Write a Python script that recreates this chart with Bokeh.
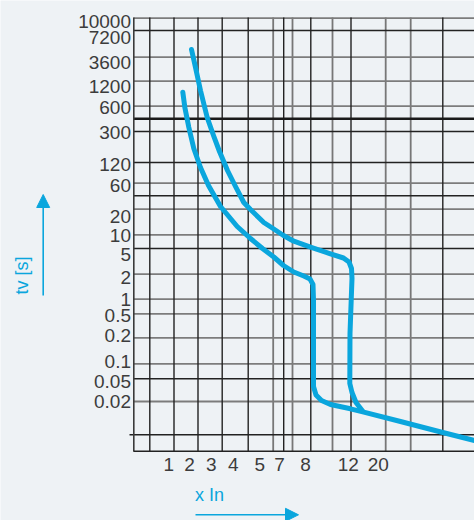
from bokeh.plotting import figure
from bokeh.models import Label, Arrow, NormalHead, Range1d
from bokeh.embed import file_html
from bokeh.resources import INLINE

# Chart units: position inside the drawn grid (the original chart uses a
# non-uniform, hand-drawn scale), x from the left border, y from the bottom border.
x_tick_pos = [35.3, 56.0, 77.7, 99.7, 126.3, 146.0, 172.0, 214.7, 244.7]
x_tick_labels = ["1", "2", "3", "4", "5", "7", "8", "12", "20"]

y_tick_pos = [430.0, 413.7, 388.7, 365.3, 343.7, 319.3, 287.0, 266.3, 235.3,
              216.0, 197.0, 174.3, 152.3, 136.0, 116.0, 90.3, 70.0, 50.0]
y_tick_labels = ["10000", "7200", "3600", "1200", "600", "300", "120", "60", "20",
                 "10", "5", "2", "1", "0.5", "0.2", "0.1", "0.05", "0.02"]

vgrid_dark = [16.3, 40.5, 64.5, 88.7, 114.7, 150.2, 177.3, 217.5, 309.3]
vgrid_light = [139.7, 159.0, 199.0, 252.2, 277.2]
hgrid_dark = [421.0, 320.0, 289.0, 255.7, 203.0, 72.7]
hgrid_light = [433.3, 394.3, 370.3, 345.3, 268.3, 242.3, 216.7, 177.3, 152.3,
               137.7, 113.7, 87.7, 50.0]
hgrid_heavy = [332.7]
hgrid_long = [16.7]

# chart extent (chart units)
X_MAX, Y_MAX = 341.0, 434.0

# lower curve (with the common tail at high current), chart units
curve1_x = [49.3, 51.3, 55.3, 60.3, 67.0, 75.0, 87.0, 103.7, 117.0, 129.0, 140.3,
            150.0, 160.3, 170.3, 176.5, 179.5, 180.0, 180.0, 182.5, 188.0, 197.0,
            217.0, 230.3, 267.0, 309.3, 341.0]
curve1_y = [359.3, 344.3, 324.3, 303.0, 284.0, 266.0, 245.0, 225.0, 213.0, 203.0,
            194.5, 186.0, 179.5, 175.5, 172.5, 167.0, 151.0, 65.0, 56.5, 51.0, 47.0,
            42.7, 39.3, 30.0, 19.0, 11.0]
# upper curve
curve2_x = [58.0, 62.0, 67.0, 73.7, 80.0, 86.0, 94.0, 102.0, 110.3, 117.0, 130.3,
            140.3, 150.0, 160.3, 177.0, 197.0, 210.0, 215.5, 218.0, 218.5, 217.7,
            216.5, 216.3, 218.5, 222.5, 228.7]
curve2_y = [402.0, 384.0, 361.0, 334.0, 316.0, 300.0, 281.0, 265.0, 249.0, 242.0,
            229.0, 222.5, 216.0, 210.3, 204.3, 197.7, 193.5, 189.5, 183.0, 173.0,
            151.0, 118.0, 68.0, 59.0, 49.0, 41.0]

BG = "#EEF2F5"
BLUE = "#0AA6DD"
TXT = "#3C3C3C"
FONT = "Liberation Sans"

p = figure(width=474, height=520, output_backend="svg", toolbar_location=None,
           x_range=Range1d(-133, 341), y_range=Range1d(-69, 451),
           min_border=0, min_border_left=0, min_border_right=0,
           min_border_top=0, min_border_bottom=0)
p.background_fill_color = BG
p.border_fill_color = BG
p.outline_line_color = None
p.grid.visible = False
p.axis.visible = False


def vlines(xs, color, width, y0=0.0, y1=Y_MAX):
    p.segment(x0=xs, y0=[y0] * len(xs), x1=xs, y1=[y1] * len(xs),
              line_color=color, line_width=width)


def hlines(ys, color, width, x0=0.0, x1=X_MAX):
    p.segment(x0=[x0] * len(ys), y0=ys, x1=[x1] * len(ys), y1=ys,
              line_color=color, line_width=width)


vlines(vgrid_light, "#777777", 1.8)
hlines(hgrid_light, "#7C7C7C", 1.8)
vlines(vgrid_dark, "#222222", 1.4)
hlines(hgrid_dark, "#222222", 1.4)
hlines(hgrid_long, "#222222", 1.4, x0=-4.0)
hlines(hgrid_heavy, "#1A1A1A", 2.6)
# left and bottom borders
vlines([0.3], "#3A3A3A", 1.6)
hlines([0.3], "#222222", 1.6)

# tick labels
p.text(x=[-2.5] * len(y_tick_pos), y=y_tick_pos, text=y_tick_labels,
       text_align="right", text_baseline="middle", text_color=TXT,
       text_font={"value": FONT}, text_font_size="19px")
p.text(x=x_tick_pos, y=[-13.0] * len(x_tick_pos), text=x_tick_labels,
       text_align="center", text_baseline="middle", text_color=TXT,
       text_font={"value": FONT}, text_font_size="19px")

p.line(curve1_x, curve1_y, line_color=BLUE, line_width=5,
       line_cap="round", line_join="round")
p.line(curve2_x, curve2_y, line_color=BLUE, line_width=5,
       line_cap="round", line_join="round")

p.add_layout(Label(x=-111.3, y=176, text="tv [s]", angle=1.5708,
                   text_align="center", text_baseline="middle",
                   text_color=BLUE, text_font=FONT, text_font_size="18px"))
p.add_layout(Arrow(x_start=-90.3, y_start=156, x_end=-90.3, y_end=257,
                   line_color=BLUE, line_width=1.6,
                   end=NormalHead(size=13, fill_color=BLUE, line_color=BLUE)))
p.add_layout(Label(x=76, y=-43, text="x In",
                   text_align="center", text_baseline="middle",
                   text_color=BLUE, text_font=FONT, text_font_size="18px"))
p.add_layout(Arrow(x_start=62, y_start=-63.3, x_end=165, y_end=-63.3,
                   line_color=BLUE, line_width=1.6,
                   end=NormalHead(size=13, fill_color=BLUE, line_color=BLUE)))

open("out.html", "w").write(file_html(p, INLINE))
